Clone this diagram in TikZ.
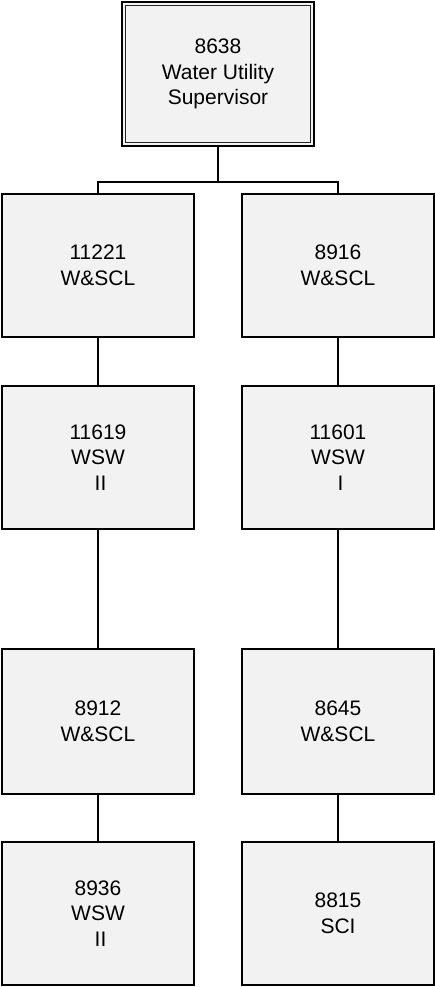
\documentclass[tikz,border=0pt]{standalone}
\usepackage{fontspec}
\setmainfont{Liberation Sans}
\begin{document}
\begin{tikzpicture}[x=1pt,y=-1pt,
  posbox/.style={draw=black,line width=2pt,fill=boxgray,minimum width=192pt,minimum height=143pt,inner sep=0pt,align=center,font=\fontsize{21}{25.5}\selectfont},
  link/.style={draw=black,line width=2pt}]
\definecolor{boxgray}{HTML}{F2F2F2}
\useasboundingbox (0,0) rectangle (435,987);
% top box (double border)
\node[posbox,minimum width=192pt,minimum height=144pt] (top) at (218,74) {8638\\Water Utility\\Supervisor};
\draw[line width=1.2pt,black!85] ([xshift=4.5pt,yshift=-4.5pt]top.north west) rectangle ([xshift=-4.5pt,yshift=4.5pt]top.south east);
% row 1
\node[posbox] (a1) at (98,265.5) {11221\\W\&SCL};
\node[posbox] (b1) at (338,265.5) {8916\\W\&SCL};
% row 2
\node[posbox] (a2) at (98,457.5) {11619\\WSW\\\kern5pt II};
\node[posbox] (b2) at (338,457.5) {11601\\WSW\\\kern5pt I};
% row 3
\node[posbox,minimum height=145pt] (a3) at (98,721.5) {8912\\W\&SCL};
\node[posbox,minimum height=145pt] (b3) at (338,721.5) {8645\\W\&SCL};
% row 4
\node[posbox] (a4) at (98,913.5) {8936\\WSW\\\kern5pt II};
\node[posbox] (b4) at (338,913.5) {8815\\SCI};
% connectors
\coordinate (bus) at (218,182);
\draw[link] (top.south) -- (bus);
\draw[link] (a1.north) |- (bus) -| (b1.north);
\draw[link] (a1.south) -- (a2.north);
\draw[link] (b1.south) -- (b2.north);
\draw[link] (a2.south) -- (a3.north);
\draw[link] (b2.south) -- (b3.north);
\draw[link] (a3.south) -- (a4.north);
\draw[link] (b3.south) -- (b4.north);
\end{tikzpicture}
\end{document}
